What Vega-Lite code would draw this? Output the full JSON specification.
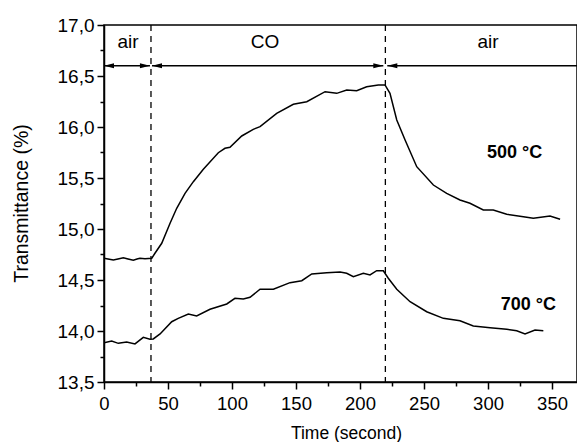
{
  "$schema": "https://vega.github.io/schema/vega-lite/v6.json",
  "autosize": "none",
  "padding": {"left": 104, "top": 25, "right": 0, "bottom": 60},
  "width": 473,
  "height": 357,
  "background": "white",
  "config": {
    "view": {"stroke": "black", "strokeWidth": 1.5},
    "font": "Liberation Sans"
  },
  "datasets": {
    "curves": [
      {"series": "500", "t": 0, "T": 14.713},
      {"series": "500", "t": 3.1, "T": 14.706},
      {"series": "500", "t": 7.3, "T": 14.696},
      {"series": "500", "t": 10.9, "T": 14.706},
      {"series": "500", "t": 15.1, "T": 14.718},
      {"series": "500", "t": 18.8, "T": 14.706},
      {"series": "500", "t": 22.9, "T": 14.693},
      {"series": "500", "t": 25.8, "T": 14.706},
      {"series": "500", "t": 28.1, "T": 14.713},
      {"series": "500", "t": 32.0, "T": 14.709},
      {"series": "500", "t": 37.3, "T": 14.713},
      {"series": "500", "t": 39.8, "T": 14.762},
      {"series": "500", "t": 45.1, "T": 14.86},
      {"series": "500", "t": 51.6, "T": 15.056},
      {"series": "500", "t": 56.8, "T": 15.203},
      {"series": "500", "t": 63.3, "T": 15.35},
      {"series": "500", "t": 69.8, "T": 15.464},
      {"series": "500", "t": 77.6, "T": 15.585},
      {"series": "500", "t": 89.3, "T": 15.748},
      {"series": "500", "t": 94.5, "T": 15.791},
      {"series": "500", "t": 98.4, "T": 15.801},
      {"series": "500", "t": 107.6, "T": 15.912},
      {"series": "500", "t": 116.6, "T": 15.977},
      {"series": "500", "t": 121.9, "T": 16.003},
      {"series": "500", "t": 134.9, "T": 16.134},
      {"series": "500", "t": 147.9, "T": 16.223},
      {"series": "500", "t": 158.4, "T": 16.248},
      {"series": "500", "t": 172.7, "T": 16.346},
      {"series": "500", "t": 181.8, "T": 16.33},
      {"series": "500", "t": 189.6, "T": 16.363},
      {"series": "500", "t": 197.4, "T": 16.356},
      {"series": "500", "t": 205.2, "T": 16.395},
      {"series": "500", "t": 214.3, "T": 16.412},
      {"series": "500", "t": 219.5, "T": 16.412},
      {"series": "500", "t": 223.4, "T": 16.33},
      {"series": "500", "t": 228.7, "T": 16.069},
      {"series": "500", "t": 235.2, "T": 15.873},
      {"series": "500", "t": 244.3, "T": 15.611},
      {"series": "500", "t": 257.3, "T": 15.431},
      {"series": "500", "t": 267.7, "T": 15.35},
      {"series": "500", "t": 278.1, "T": 15.284},
      {"series": "500", "t": 285.9, "T": 15.252},
      {"series": "500", "t": 296.3, "T": 15.186},
      {"series": "500", "t": 304.1, "T": 15.186},
      {"series": "500", "t": 314.6, "T": 15.144},
      {"series": "500", "t": 327.6, "T": 15.121},
      {"series": "500", "t": 335.4, "T": 15.105},
      {"series": "500", "t": 348.4, "T": 15.127},
      {"series": "500", "t": 356.3, "T": 15.095},
      {"series": "700", "t": 0, "T": 13.885},
      {"series": "700", "t": 6.0, "T": 13.902},
      {"series": "700", "t": 11.2, "T": 13.879},
      {"series": "700", "t": 17.7, "T": 13.892},
      {"series": "700", "t": 24.2, "T": 13.873},
      {"series": "700", "t": 30.7, "T": 13.938},
      {"series": "700", "t": 35.9, "T": 13.919},
      {"series": "700", "t": 38.5, "T": 13.922},
      {"series": "700", "t": 43.8, "T": 13.971},
      {"series": "700", "t": 52.9, "T": 14.091},
      {"series": "700", "t": 58.0, "T": 14.124},
      {"series": "700", "t": 65.9, "T": 14.167},
      {"series": "700", "t": 72.4, "T": 14.147},
      {"series": "700", "t": 82.8, "T": 14.213},
      {"series": "700", "t": 95.9, "T": 14.265},
      {"series": "700", "t": 102.3, "T": 14.32},
      {"series": "700", "t": 108.8, "T": 14.314},
      {"series": "700", "t": 114.1, "T": 14.33},
      {"series": "700", "t": 121.9, "T": 14.409},
      {"series": "700", "t": 132.3, "T": 14.409},
      {"series": "700", "t": 145.3, "T": 14.474},
      {"series": "700", "t": 154.5, "T": 14.493},
      {"series": "700", "t": 162.3, "T": 14.559},
      {"series": "700", "t": 174.0, "T": 14.572},
      {"series": "700", "t": 184.4, "T": 14.578},
      {"series": "700", "t": 189.6, "T": 14.566},
      {"series": "700", "t": 194.8, "T": 14.532},
      {"series": "700", "t": 202.6, "T": 14.566},
      {"series": "700", "t": 207.8, "T": 14.549},
      {"series": "700", "t": 213.0, "T": 14.591},
      {"series": "700", "t": 218.2, "T": 14.591},
      {"series": "700", "t": 222.1, "T": 14.517},
      {"series": "700", "t": 228.7, "T": 14.409},
      {"series": "700", "t": 239.1, "T": 14.287},
      {"series": "700", "t": 252.1, "T": 14.189},
      {"series": "700", "t": 265.1, "T": 14.124},
      {"series": "700", "t": 278.1, "T": 14.101},
      {"series": "700", "t": 288.5, "T": 14.049},
      {"series": "700", "t": 301.6, "T": 14.032},
      {"series": "700", "t": 314.6, "T": 14.016},
      {"series": "700", "t": 322.4, "T": 14.003},
      {"series": "700", "t": 328.9, "T": 13.971},
      {"series": "700", "t": 336.7, "T": 14.01},
      {"series": "700", "t": 343.2, "T": 14.003}
    ],
    "switches": [{"t": 36.7}, {"t": 219.8}],
    "segments": [
      {"t1": 0, "t2": 35.9, "T": 16.6},
      {"t1": 37.5, "t2": 218.2, "T": 16.6},
      {"t1": 221.3, "t2": 369.5, "T": 16.6}
    ],
    "heads": [
      {"t": 0, "T": 16.6, "dir": "L"},
      {"t": 35.9, "T": 16.6, "dir": "R"},
      {"t": 37.5, "T": 16.6, "dir": "L"},
      {"t": 218.2, "T": 16.6, "dir": "R"},
      {"t": 221.3, "T": 16.6, "dir": "L"}
    ],
    "phases": [
      {"t": 18.75, "T": 16.833, "label": "air"},
      {"t": 125.8, "T": 16.833, "label": "CO"},
      {"t": 300, "T": 16.833, "label": "air"}
    ],
    "temps": [
      {"t": 320.7, "T": 15.745, "label": "500 °C"},
      {"t": 331.5, "T": 14.255, "label": "700 °C"}
    ]
  },
  "encoding": {
    "x": {
      "field": "t", "type": "quantitative",
      "scale": {"domain": [0, 369.5], "nice": false, "zero": false},
      "axis": {
        "title": "Time (second)",
        "values": [0, 25, 50, 75, 100, 125, 150, 175, 200, 225, 250, 275, 300, 325, 350],
        "labelExpr": "datum.value % 50 == 0 ? datum.label : ''",
        "grid": false,
        "domainColor": "black", "domainWidth": 1.5,
        "tickColor": "black", "tickWidth": 1.5,
        "tickSize": {"condition": {"test": "datum.value % 50 != 0", "value": 4}, "value": 7},
        "labelFont": "Liberation Sans", "labelFontSize": 18.5, "labelColor": "black",
        "labelPadding": 5, "labelFlush": false, "labelOverlap": false,
        "titleFont": "Liberation Sans", "titleFontSize": 17.5, "titleFontWeight": "normal",
        "titleColor": "black", "titleBaseline": "alphabetic", "titleY": 56, "titleX": 242
      }
    },
    "y": {
      "field": "T", "type": "quantitative",
      "scale": {"domain": [13.5, 17.0], "nice": false, "zero": false},
      "axis": {
        "title": "Transmittance (%)",
        "values": [13.5, 13.75, 14.0, 14.25, 14.5, 14.75, 15.0, 15.25, 15.5, 15.75, 16.0, 16.25, 16.5, 16.75, 17.0],
        "labelExpr": "round(datum.value * 4) % 2 == 1 ? '' : replace(format(datum.value, '.1f'), '.', ',')",
        "grid": false,
        "domainColor": "black", "domainWidth": 1.5,
        "tickColor": "black", "tickWidth": 1.5,
        "tickSize": {"condition": {"test": "round(datum.value * 4) % 2 == 1", "value": 4}, "value": 7},
        "labelFont": "Liberation Sans", "labelFontSize": 19, "labelColor": "black",
        "labelPadding": 3, "labelFlush": false, "labelOverlap": false,
        "titleFont": "Liberation Sans", "titleFontSize": 19.5, "titleFontWeight": "normal",
        "titleColor": "black", "titleAngle": -90, "titleBaseline": "alphabetic",
        "titleX": -77, "titleY": 178, "titleAlign": "center"
      }
    }
  },
  "layer": [
    {
      "data": {"name": "curves"},
      "mark": {"type": "line", "color": "black", "strokeWidth": 1.5, "clip": true},
      "encoding": {"detail": {"field": "series", "type": "nominal"}}
    },
    {
      "data": {"name": "switches"},
      "mark": {"type": "rule", "color": "black", "strokeWidth": 1.3, "strokeDash": [6, 5]},
      "encoding": {"y": null}
    },
    {
      "data": {"name": "segments"},
      "mark": {"type": "rule", "color": "black", "strokeWidth": 1.5, "clip": true},
      "encoding": {
        "x": {"field": "t1", "type": "quantitative"},
        "x2": {"field": "t2"}
      }
    },
    {
      "data": {"name": "heads"},
      "mark": {"type": "point", "filled": true, "color": "black", "size": 100, "opacity": 1, "strokeWidth": 0},
      "encoding": {
        "shape": {
          "field": "dir", "type": "nominal",
          "scale": {"domain": ["L", "R"], "range": ["M0,0L2,-0.5L2,0.5Z", "M0,0L-2,-0.5L-2,0.5Z"]},
          "legend": null
        }
      }
    },
    {
      "data": {"name": "phases"},
      "mark": {"type": "text", "font": "Liberation Sans", "fontSize": 19, "color": "black", "align": "center", "baseline": "middle"},
      "encoding": {"text": {"field": "label"}}
    },
    {
      "data": {"name": "temps"},
      "mark": {"type": "text", "font": "Liberation Sans", "fontSize": 18, "fontWeight": "bold", "color": "black", "align": "center", "baseline": "middle"},
      "encoding": {"text": {"field": "label"}}
    }
  ]
}
